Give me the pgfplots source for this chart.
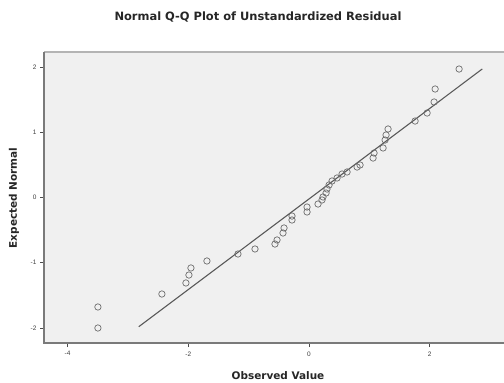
\documentclass[border=0pt]{standalone}
\usepackage{pgfplots}
\pgfplotsset{compat=1.18}
\usepackage{fontspec}
\setmainfont{Liberation Sans}
\newfontfamily\labfont{DejaVu Sans}
\definecolor{bgc}{HTML}{F0F0F0}
\definecolor{framec}{HTML}{7A7A7A}
\definecolor{topc}{HTML}{B4B4B4}
\definecolor{markc}{HTML}{6E6E6E}
\definecolor{linec}{HTML}{5A5A5A}
\begin{document}
\begin{tikzpicture}[x=1bp,y=1bp]
\path[use as bounding box,fill=white] (0,0) rectangle (504,382);
\begin{axis}[
  at={(44bp,39bp)}, anchor=south west,
  scale only axis, width=460bp, height=291bp,
  xmin=-4.39, xmax=3.23, ymin=-2.23, ymax=2.23,
  xtick={-4,-2,0,2}, ytick={-2,-1,0,1,2},
  xtick pos=bottom, ytick pos=left,
  axis background/.style={fill=bgc},
  axis line style={draw=none},
  tick style={black!70, line width=0.6pt},
  tick align=outside, major tick length=4bp,
  tick label style={font=\fontsize{6.5}{7}\selectfont, text=black!75},
  /pgf/number format/assume math mode=true,
  xticklabel style={yshift=-1bp},
  clip=false,
]
\draw[topc, line width=1.2pt] (rel axis cs:0,1) -- (rel axis cs:1,1);
\draw[framec, line width=1.4pt] (rel axis cs:1,0) -- (rel axis cs:0,0) -- (rel axis cs:0,1);
\addplot[linec, line width=1.1pt] coordinates {(-2.82,-1.98) (2.87,1.97)};
\addplot[only marks, mark=o, mark size=3.2bp, mark options={markc, line width=0.7pt}] coordinates {
(-3.497,-1.678) (-3.497,-2.000) (-2.437,-1.479) (-2.039,-1.310) (-1.989,-1.188)
(-1.956,-1.080) (-1.691,-0.973) (-1.177,-0.866) (-0.895,-0.789) (-0.564,-0.713)
(-0.530,-0.651) (-0.431,-0.544) (-0.414,-0.467) (-0.282,-0.345) (-0.282,-0.284)
(-0.033,-0.222) (-0.033,-0.146) (0.149,-0.100) (0.215,-0.038) (0.232,0.008)
(0.282,0.069) (0.298,0.130) (0.332,0.192) (0.381,0.253) (0.464,0.299)
(0.547,0.360) (0.630,0.391) (0.796,0.467) (0.845,0.498) (1.061,0.605)
(1.077,0.682) (1.227,0.759) (1.260,0.881) (1.276,0.958) (1.309,1.050)
(1.757,1.172) (1.956,1.295) (2.072,1.464) (2.089,1.663) (2.486,1.969)
};
\end{axis}
\node[font=\labfont\bfseries\fontsize{11.5}{13}\selectfont, text=black!85] at (258,365) {Normal Q-Q Plot of Unstandardized Residual};
\node[font=\labfont\bfseries\fontsize{10.5}{12}\selectfont, text=black!85] at (278,6) {Observed Value};
\node[font=\labfont\bfseries\fontsize{10.5}{12}\selectfont, text=black!85, rotate=90] at (14,184) {Expected Normal};
\end{tikzpicture}
\end{document}
